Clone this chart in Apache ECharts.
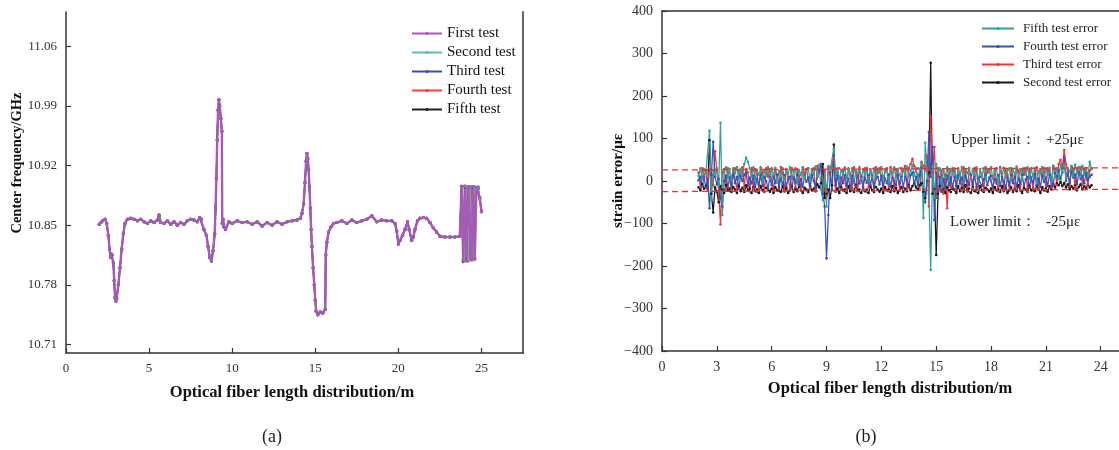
<!DOCTYPE html>
<html><head><meta charset="utf-8">
<script src="https://cdn.jsdelivr.net/npm/echarts@6/dist/echarts.min.js"></script>
<style>html,body{margin:0;padding:0;background:#fff}#c{width:1119px;height:450px}</style>
</head><body><div id="c"></div>
<script>
// ---------- (a) centre frequency ----------
const freqXTicks = [0, 5, 10, 15, 20, 25];
const freqYTicks = [10.71, 10.78, 10.85, 10.92, 10.99, 11.06];
const freqNames = ['First test', 'Second test', 'Third test', 'Fourth test', 'Fifth test'];
// positions common to all five tests (they coincide up to 23.7 m)
const freqX = [2.0,2.1,2.2,2.35,2.45,2.55,2.62,2.68,2.72,2.78,2.85,2.9,2.95,3.0,3.05,3.15,3.25,3.35,3.45,3.55,3.7,3.9,4.1,4.3,4.5,4.7,4.9,5.1,5.3,5.5,5.6,5.7,5.9,6.1,6.3,6.5,6.7,6.9,7.1,7.3,7.5,7.7,7.9,8.05,8.15,8.3,8.45,8.55,8.65,8.75,8.85,8.95,9.0,9.05,9.1,9.15,9.2,9.25,9.32,9.38,9.4,9.45,9.5,9.6,9.8,10.0,10.3,10.6,10.9,11.2,11.5,11.8,12.1,12.4,12.7,13.0,13.3,13.6,13.9,14.1,14.2,14.3,14.38,14.45,14.5,14.55,14.6,14.65,14.7,14.75,14.8,14.87,14.94,15.0,15.05,15.15,15.3,15.45,15.6,15.63,15.7,15.8,15.95,16.1,16.3,16.6,16.9,17.2,17.5,17.8,18.1,18.4,18.7,19.0,19.3,19.6,19.8,19.9,20.0,20.1,20.25,20.4,20.55,20.65,20.8,20.9,21.0,21.15,21.3,21.5,21.7,21.9,22.1,22.3,22.5,22.8,23.1,23.4,23.7];
const freqCommon = [10.851,10.853,10.855,10.857,10.852,10.838,10.822,10.812,10.816,10.815,10.806,10.785,10.765,10.761,10.764,10.780,10.800,10.822,10.840,10.852,10.857,10.858,10.857,10.855,10.857,10.854,10.852,10.855,10.853,10.856,10.862,10.853,10.852,10.855,10.851,10.854,10.850,10.853,10.851,10.855,10.857,10.856,10.854,10.859,10.857,10.845,10.838,10.825,10.812,10.808,10.820,10.840,10.870,10.905,10.950,10.985,10.997,10.990,10.975,10.960,10.852,10.857,10.848,10.845,10.854,10.852,10.855,10.853,10.854,10.851,10.854,10.849,10.853,10.850,10.854,10.851,10.854,10.855,10.856,10.858,10.864,10.875,10.900,10.925,10.934,10.928,10.915,10.895,10.870,10.845,10.825,10.800,10.780,10.762,10.749,10.745,10.748,10.747,10.751,10.815,10.830,10.842,10.848,10.852,10.853,10.855,10.852,10.856,10.853,10.855,10.857,10.861,10.854,10.856,10.855,10.855,10.852,10.843,10.828,10.832,10.838,10.845,10.854,10.845,10.832,10.836,10.845,10.855,10.858,10.859,10.858,10.853,10.847,10.842,10.837,10.836,10.836,10.836,10.837];
// unstable end section, where the tests differ
const tailX = [23.8,23.9,24.0,24.1,24.2,24.3,24.4,24.5,24.6,24.7,24.8,24.9,25.0];
const firstTail  = [10.895,10.809,10.896,10.808,10.894,10.894,10.810,10.895,10.810,10.894,10.893,10.882,10.866];
const secondTail = [10.894,10.894,10.808,10.895,10.809,10.894,10.895,10.809,10.894,10.893,10.894,10.881,10.865];
const thirdTail  = [10.896,10.807,10.895,10.894,10.808,10.895,10.809,10.894,10.895,10.893,10.895,10.882,10.866];
const fourthTail = [10.893,10.895,10.809,10.894,10.895,10.810,10.894,10.895,10.811,10.894,10.894,10.880,10.867];
const fifthTail  = [10.895,10.808,10.894,10.809,10.895,10.894,10.895,10.810,10.894,10.894,10.893,10.881,10.866];
const freqTails = [firstTail, secondTail, thirdTail, fourthTail, fifthTail];

// ---------- (b) strain error ----------
const errXTicks = [0, 3, 6, 9, 12, 15, 18, 21, 24];
const errNames = ['Fifth test error', 'Fourth test error', 'Third test error', 'Second test error'];
const errX = [
  2.0,2.1,2.2,2.3,2.4,2.5,2.6,2.7,2.8,2.9,
  3.0,3.1,3.2,3.3,3.4,3.5,3.6,3.7,3.8,3.9,
  4.0,4.1,4.2,4.3,4.4,4.5,4.6,4.7,4.8,4.9,
  5.0,5.1,5.2,5.3,5.4,5.5,5.6,5.7,5.8,5.9,
  6.0,6.1,6.2,6.3,6.4,6.5,6.6,6.7,6.8,6.9,
  7.0,7.1,7.2,7.3,7.4,7.5,7.6,7.7,7.8,7.9,
  8.0,8.1,8.2,8.3,8.4,8.5,8.6,8.7,8.8,8.9,
  9.0,9.1,9.2,9.3,9.4,9.5,9.6,9.7,9.8,9.9,
  10.0,10.1,10.2,10.3,10.4,10.5,10.6,10.7,10.8,10.9,
  11.0,11.1,11.2,11.3,11.4,11.5,11.6,11.7,11.8,11.9,
  12.0,12.1,12.2,12.3,12.4,12.5,12.6,12.7,12.8,12.9,
  13.0,13.1,13.2,13.3,13.4,13.5,13.6,13.7,13.8,13.9,
  14.0,14.1,14.2,14.3,14.4,14.5,14.6,14.7,14.8,14.9,
  15.0,15.1,15.2,15.3,15.4,15.5,15.6,15.7,15.8,15.9,
  16.0,16.1,16.2,16.3,16.4,16.5,16.6,16.7,16.8,16.9,
  17.0,17.1,17.2,17.3,17.4,17.5,17.6,17.7,17.8,17.9,
  18.0,18.1,18.2,18.3,18.4,18.5,18.6,18.7,18.8,18.9,
  19.0,19.1,19.2,19.3,19.4,19.5,19.6,19.7,19.8,19.9,
  20.0,20.1,20.2,20.3,20.4,20.5,20.6,20.7,20.8,20.9,
  21.0,21.1,21.2,21.3,21.4,21.5,21.6,21.7,21.8,21.9,
  22.0,22.1,22.2,22.3,22.4,22.5,22.6,22.7,22.8,22.9,
  23.0,23.1,23.2,23.3,23.4,23.5];
const fifthErr = [
  12,30,5,28,18,20,118,-45,25,15,
  30,-10,137,-80,22,32,8,28,2,30,
  18,33,5,28,12,40,55,45,30,10,
  32,0,26,14,30,-4,25,12,33,6,
  28,15,31,-3,24,10,30,2,27,18,
  33,5,22,30,-6,26,14,32,8,25,
  30,0,28,15,34,10,38,-20,-45,20,
  -60,35,28,30,75,10,30,0,26,15,
  32,4,28,12,30,-5,24,18,33,6,
  27,14,31,-2,25,10,30,3,28,20,
  33,6,22,30,-4,27,15,32,8,26,
  30,2,28,14,34,10,25,38,12,30,
  5,28,42,-87,90,20,-30,-209,35,-40,
  40,20,30,-15,25,10,32,0,28,15,
  30,4,26,13,33,-5,28,18,31,6,
  25,15,32,-3,27,10,30,2,26,20,
  33,5,23,30,-6,28,14,31,8,25,
  30,0,27,15,34,10,28,2,30,16,
  32,5,26,12,30,-4,24,18,33,6,
  28,15,31,-2,36,10,30,4,38,20,
  40,8,30,22,35,12,38,18,33,10,
  36,15,30,12,45,28];
const fourthErr = [
  2,10,-12,8,-15,5,-64,15,92,10,
  -8,5,-40,-60,0,12,-15,8,-10,15,
  -5,10,-18,12,0,15,20,-12,8,-6,
  12,-15,5,-8,14,-12,10,0,-18,8,
  -10,12,-5,15,-15,6,-8,14,-12,4,
  10,-16,8,-4,15,-10,5,-14,12,-2,
  8,-12,15,0,-15,10,25,40,-30,-60,
  -182,-80,20,-20,60,-10,12,-15,8,-5,
  14,-10,6,-16,12,0,-12,15,-6,10,
  -14,8,-4,14,-10,12,-16,5,10,-8,
  12,-12,6,-5,15,-14,8,0,-10,14,
  -6,10,-15,12,2,-12,14,20,-8,10,
  -10,15,30,-20,-50,0,116,10,80,-92,
  20,-40,10,-25,5,-18,12,-10,8,-15,
  10,-12,14,-6,8,-16,12,0,-10,15,
  -8,12,-14,6,10,-12,4,15,-10,8,
  12,-15,5,-6,14,-12,10,-2,-16,8,
  -10,14,-5,12,-14,6,-8,15,-12,4,
  10,-15,8,-4,16,-10,5,-14,12,-2,
  8,-12,15,0,-8,18,10,25,5,20,
  55,0,18,-5,22,8,15,-8,20,5,
  12,-5,18,2,10,15];
const thirdErr = [
  20,-15,30,10,25,-20,28,15,-10,70,
  25,-25,-102,20,28,-18,30,5,-22,28,
  30,-20,26,10,32,-15,28,20,-24,30,
  -18,28,15,-22,32,20,-25,30,10,28,
  30,-22,25,15,-18,33,20,-25,28,10,
  -20,30,25,-15,28,12,-22,32,18,28,
  30,-18,25,30,-24,35,20,40,-30,25,
  -35,30,15,35,50,-25,28,30,-20,25,
  28,-22,30,15,-18,32,22,-24,28,10,
  -20,30,25,-15,28,12,-22,32,18,30,
  28,-18,25,30,-24,33,20,-20,28,15,
  -22,30,25,35,-18,30,40,52,35,28,
  30,-20,45,35,25,60,-60,151,20,80,
  -40,30,-20,25,-30,15,-64,28,-15,30,
  25,-20,30,15,-22,32,20,-25,28,12,
  -18,30,25,-15,28,10,-22,32,20,28,
  30,-20,26,30,-24,33,18,-22,28,15,
  -20,30,28,-16,30,25,-22,28,15,30,
  -25,28,30,-18,25,32,-20,28,12,30,
  -22,30,25,-15,35,28,-10,40,50,30,
  73,40,25,-12,35,28,-15,30,20,32,
  -10,28,30,-8,25,30];
const secondErr = [
  -15,-22,-8,-18,-12,-20,96,-30,-74,-15,
  -25,-50,-12,-20,-28,-10,-22,-18,-26,-14,
  -20,-28,-12,-24,-16,-26,-10,-22,-18,-28,
  -14,-24,-20,-28,-12,-22,-26,-16,-20,-25,
  -18,-28,-14,-22,-20,-26,-12,-24,-16,-28,
  -22,-14,-26,-18,-24,-10,-22,-28,-16,-20,
  -26,-12,-22,-18,-24,-8,-15,-5,40,-40,
  -30,-20,-40,-10,86,-25,-18,-28,-14,-22,
  -20,-28,-12,-24,-18,-26,-10,-22,-20,-28,
  -16,-24,-20,-28,-12,-22,-26,-14,-20,-25,
  -18,-28,-14,-22,-20,-26,-12,-24,-16,-28,
  -22,-14,-26,-18,-24,-10,-22,-12,-6,-15,
  -20,-10,-5,-25,-40,0,20,278,-30,-20,
  -174,-30,-12,-25,-20,-28,-15,-22,-26,-18,
  -20,-28,-12,-24,-16,-26,-10,-22,-18,-28,
  -14,-24,-20,-28,-12,-22,-26,-16,-20,-25,
  -18,-28,-14,-22,-20,-26,-12,-24,-16,-28,
  -22,-14,-26,-18,-24,-10,-22,-28,-16,-20,
  -26,-12,-22,-18,-24,-10,-20,-28,-14,-22,
  -18,-25,-12,-20,-8,-15,-5,-10,-2,-12,
  -5,-15,-8,-20,-12,-18,-10,-22,-14,-8,
  -20,-12,-18,-8,-15,-10];
const errSeriesValues = [fifthErr, fourthErr, thirdErr, secondErr];
// limit guide lines (drawn slightly tilted as in the source figure)
const upperLimitLine = [[0, 26], [25, 31]];
const lowerLimitLine = [[0, -25], [25, -19.6]];

// ---------- build ----------
const SERIF = "'Liberation Serif','Times New Roman',serif";
const freqColors = ['#a55ab4', '#5fbcb4', '#3e4fae', '#ff3b3b', '#222222'];
const errColors = ['#33a096', '#3450c2', '#f03434', '#161616'];

function pairs(xs, ys) { return xs.map((x, i) => [x, ys[i]]); }

const series = [];
// (a): draw fifth first, first test on top
for (let k = 4; k >= 0; k--) {
  series.push({
    name: freqNames[k], type: 'line', xAxisIndex: 0, yAxisIndex: 0,
    data: pairs(freqX.concat(tailX), freqCommon.concat(freqTails[k])),
    symbol: 'circle', symbolSize: k === 0 ? 3.5 : 3, showAllSymbol: true,
    lineStyle: { width: k === 0 ? 2.4 : 1.5, color: freqColors[k] },
    itemStyle: { color: freqColors[k] }, animation: false
  });
}
// (b): second (black) first, fifth (teal) on top
for (let k = 3; k >= 0; k--) {
  const s = {
    name: errNames[k], type: 'line', xAxisIndex: 1, yAxisIndex: 2,
    data: pairs(errX, errSeriesValues[k]),
    symbol: 'circle', symbolSize: 2.6, showAllSymbol: true,
    lineStyle: { width: 1.25, color: errColors[k] },
    itemStyle: { color: errColors[k] }, animation: false
  };
  if (k === 3) {
    s.markLine = {
      silent: true, symbol: 'none', animation: false,
      lineStyle: { color: '#e83232', type: [6, 4], width: 1.3 },
      label: { show: false },
      data: [
        [{ coord: upperLimitLine[0] }, { coord: upperLimitLine[1] }],
        [{ coord: lowerLimitLine[0] }, { coord: lowerLimitLine[1] }]
      ]
    };
  }
  series.push(s);
}

const axisText = { color: '#333', fontFamily: SERIF, fontSize: 13 };
const lineDark = { color: '#333', width: 1.5 };

const option = {
  animation: false,
  backgroundColor: '#fff',
  grid: [
    { left: 66, top: 12, width: 457, height: 341 },
    { left: 662, top: 11, width: 458.3, height: 340 }
  ],
  legend: [
    {
      data: freqNames, orient: 'vertical', left: 411, top: 26, padding: 0,
      itemWidth: 30, itemHeight: 4, itemGap: 4,
      textStyle: { color: '#111', fontFamily: SERIF, fontSize: 15 }
    },
    {
      data: errNames, orient: 'vertical', left: 981, top: 22, padding: 0,
      itemWidth: 32, itemHeight: 4, itemGap: 5,
      textStyle: { color: '#222', fontFamily: SERIF, fontSize: 13, padding: [0, 0, 0, 4] }
    }
  ],
  xAxis: [
    {
      gridIndex: 0, type: 'value', min: 0, max: 27.5, interval: 5,
      axisLine: { onZero: false, lineStyle: lineDark },
      axisTick: { inside: true, length: 5, customValues: freqXTicks, lineStyle: { color: '#333', width: 1.2 } },
      axisLabel: Object.assign({ margin: 9, customValues: freqXTicks }, axisText),
      splitLine: { show: false }
    },
    {
      gridIndex: 1, type: 'value', min: 0, max: 25, interval: 3,
      axisLine: { onZero: false, lineStyle: lineDark },
      axisTick: { inside: true, length: 5, customValues: errXTicks, lineStyle: { color: '#333', width: 1.2 } },
      axisLabel: Object.assign({ margin: 9, customValues: errXTicks }, axisText, { fontSize: 14 }),
      splitLine: { show: false }
    },
    {
      gridIndex: 1, type: 'value', position: 'top', min: 0, max: 25,
      axisLine: { onZero: false, lineStyle: lineDark },
      axisTick: { show: false }, axisLabel: { show: false }, splitLine: { show: false }
    }
  ],
  yAxis: [
    {
      gridIndex: 0, type: 'value', min: 10.70, max: 11.10,
      axisLine: { onZero: false, lineStyle: lineDark },
      axisTick: { inside: true, length: 5, customValues: freqYTicks, lineStyle: { color: '#333', width: 1.2 } },
      axisLabel: Object.assign({ margin: 9, customValues: freqYTicks, formatter: v => v.toFixed(2) }, axisText),
      splitLine: { show: false }
    },
    {
      gridIndex: 0, type: 'value', position: 'right', min: 10.70, max: 11.10,
      axisLine: { show: true, onZero: false, lineStyle: { color: '#666', width: 2 } },
      axisTick: { show: false }, axisLabel: { show: false }, splitLine: { show: false }
    },
    {
      gridIndex: 1, type: 'value', min: -400, max: 400, interval: 100,
      axisLine: { onZero: false, lineStyle: lineDark },
      axisTick: { inside: true, length: 5, lineStyle: { color: '#333', width: 1.2 } },
      axisLabel: Object.assign({ margin: 9, formatter: v => String(v).replace('-', '\u2212') }, axisText, { fontSize: 14 }),
      splitLine: { show: false }
    }
  ],
  graphic: [
    { type: 'text', x: 17, y: 163, rotation: Math.PI / 2,
      style: { text: 'Center frequency/GHz', font: 'bold 14.5px ' + SERIF, fill: '#111', align: 'center', verticalAlign: 'middle' } },
    { type: 'text', x: 292, y: 393,
      style: { text: 'Optical fiber length distribution/m', font: 'bold 16.5px ' + SERIF, fill: '#111', align: 'center', verticalAlign: 'middle' } },
    { type: 'text', x: 618, y: 181, rotation: Math.PI / 2,
      style: { text: 'strain error/\u03bc\u03b5', font: 'bold 15px ' + SERIF, fill: '#111', align: 'center', verticalAlign: 'middle' } },
    { type: 'text', x: 890, y: 389,
      style: { text: 'Optical fiber length distribution/m', font: 'bold 16.5px ' + SERIF, fill: '#111', align: 'center', verticalAlign: 'middle' } },
    { type: 'text', x: 272, y: 437,
      style: { text: '(a)', font: '18px ' + SERIF, fill: '#222', align: 'center', verticalAlign: 'middle' } },
    { type: 'text', x: 866, y: 437,
      style: { text: '(b)', font: '18px ' + SERIF, fill: '#222', align: 'center', verticalAlign: 'middle' } },
    { type: 'text', x: 951, y: 140,
      style: { text: 'Upper limit\uff1a', font: '15px ' + SERIF, fill: '#222', align: 'left', verticalAlign: 'middle' } },
    { type: 'text', x: 1046, y: 140,
      style: { text: '+25\u03bc\u03b5', font: '15px ' + SERIF, fill: '#222', align: 'left', verticalAlign: 'middle' } },
    { type: 'text', x: 950, y: 222,
      style: { text: 'Lower limit\uff1a', font: '15px ' + SERIF, fill: '#222', align: 'left', verticalAlign: 'middle' } },
    { type: 'text', x: 1046, y: 222,
      style: { text: '-25\u03bc\u03b5', font: '15px ' + SERIF, fill: '#222', align: 'left', verticalAlign: 'middle' } }
  ],
  series: series
};

const chart = echarts.init(document.getElementById('c'), null, { renderer: 'canvas' });
chart.setOption(option);
</script></body></html>
